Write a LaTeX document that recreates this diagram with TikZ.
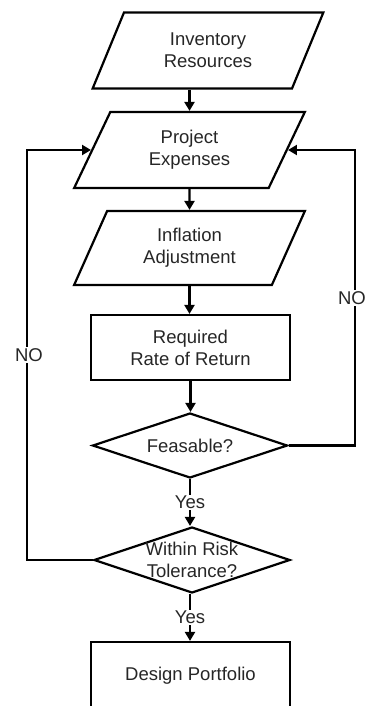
\documentclass[tikz,border=0pt]{standalone}
\usepackage{fontspec}
\setmainfont{Liberation Sans}
\usetikzlibrary{shapes.geometric,arrows.meta}
\begin{document}
\begin{tikzpicture}[x=1pt,y=-1pt,
  every node/.style={font=\fontsize{18.5}{22}\selectfont, text=black!85, align=center},
  para/.style={draw=black, line width=2.2pt, trapezium, trapezium left angle=64.7, trapezium right angle=115.3, trapezium stretches=true, minimum width=231pt, minimum height=76pt, inner sep=0pt},
  box/.style={draw=black, line width=2.2pt, minimum width=199pt, minimum height=65pt, inner sep=0pt},
  dia/.style={draw=black, line width=2.2pt, diamond, minimum width=196pt, minimum height=66pt, inner sep=0pt},
  flow/.style={line width=2.2pt, line join=miter, -{Triangle[length=9pt,width=10pt]}},
  lbl/.style={fill=white, inner sep=1.5pt}
]
\useasboundingbox (0,0) rectangle (366,706);
\clip (0,0) rectangle (366,706);
\node[para] (inv) at (208,50.5) {Inventory\\Resources};
\node[para] (exp) at (189.5,150) {Project\\Expenses};
\node[para, minimum height=74pt] (inf) at (189.5,248) {Inflation\\Adjustment};
\node[box] (rr) at (190.5,347.5) {Required\\Rate of Return};
\node[dia, minimum width=195pt, minimum height=65pt] (fea) at (190,445.5) {};
\node (featext) at (fea.center) {Feasable?};
\node[dia] (risk) at (192,560) {};
\node (risktext) at (risk.center) {Within Risk\\Tolerance?};
\node[box, minimum height=68pt] (dp) at (190.5,676) {Design Portfolio};
\coordinate (rx) at (355,445);
\coordinate (lx) at (27,560);
\draw[flow] (exp.north |- inv.south) -- (exp.north);
\draw[flow] (exp.south) -- (inf.north);
\draw[flow] (inf.south) -- (inf.south |- rr.north);
\draw[flow] (rr.south) -- (rr.south |- fea.north);
\draw[flow] (fea.south) -- node[lbl]{Yes} (fea.south |- risk.north);
\draw[flow] (fea.south |- risk.south) -- node[lbl]{Yes} (fea.south |- dp.north);
\draw[flow] (fea.east) -- (fea.east -| rx) -- node[lbl, xshift=-3pt]{NO} (rx |- exp.east) -- (exp.east);
\draw[flow] (risk.west) -- (risk.west -| lx) -- node[lbl, xshift=2pt]{NO} (lx |- exp.west) -- (exp.west);
\end{tikzpicture}
\end{document}
